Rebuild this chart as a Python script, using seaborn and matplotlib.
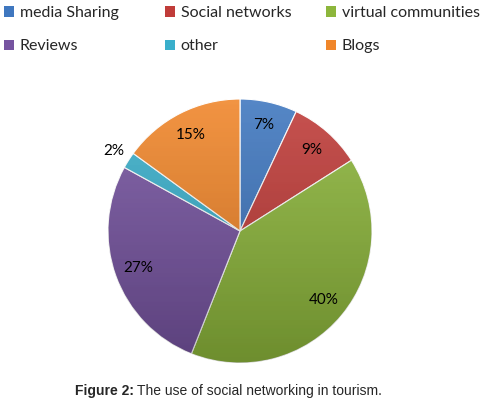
import numpy as np
import matplotlib
matplotlib.use("Agg")
import matplotlib.pyplot as plt
from matplotlib.patches import Patch, Circle
import seaborn as sns

# Share of each social networking use in tourism (percent)
categories = ["media Sharing", "Social networks", "virtual communities",
              "Reviews", "other", "Blogs"]
shares = [7, 9, 40, 27, 2, 15]
colors = ["#3F77BF", "#C03C39", "#8DB63C", "#7654A0", "#3AAFCB", "#F0862A"]

sns.set_theme(style="white")
plt.rcParams["font.family"] = ["Lato", "DejaVu Sans"]

W, H = 489, 409
fig = plt.figure(figsize=(W / 100, H / 100), dpi=100)

# pie axes: centre (240, 231) px, radius 132 px
cx, cy, r = 240, 231, 132
ax = fig.add_axes([(cx - r) / W, 1 - (cy + r) / H, 2 * r / W, 2 * r / H])

wedges, _ = ax.pie(shares, colors=colors, startangle=90, counterclock=False,
                   radius=1.0, center=(0, 0),
                   wedgeprops=dict(edgecolor="white", linewidth=0.8))

# soft light-to-dark shading across the pie
grad = np.linspace(1, 0, 256)[:, None] * np.ones((1, 2))
shade = np.zeros((256, 2, 4))
shade[..., 3] = (1 - grad) * 0.22
img = ax.imshow(shade, extent=(-1, 1, -1, 1), origin="upper", zorder=3,
                interpolation="bilinear")
img.set_clip_path(Circle((0, 0), 1.0, transform=ax.transData))
hl = np.zeros((256, 2, 4))
hl[..., :3] = 1.0
hl[..., 3] = grad * 0.12
img2 = ax.imshow(hl, extent=(-1, 1, -1, 1), origin="upper", zorder=3,
                 interpolation="bilinear")
img2.set_clip_path(Circle((0, 0), 1.0, transform=ax.transData))
ax.set_xlim(-1, 1)
ax.set_ylim(-1, 1)
ax.set_aspect("equal")
ax.axis("off")

# percentage labels
for w, v in zip(wedges, shares):
    mid = np.deg2rad((w.theta1 + w.theta2) / 2)
    d = 1.13 if v < 5 else 0.82
    ax.text(d * np.cos(mid), d * np.sin(mid), f"{v}%", ha="center",
            va="center", fontsize=11, color="black", zorder=5)

# legend: three equally spaced columns, two rows
handles = [Patch(facecolor=c, edgecolor="none") for c in colors]
col_x = [5, 166, 327]
for j, x0 in enumerate(col_x):
    idx = [j, j + 3]
    fig.legend([handles[i] for i in idx], [categories[i] for i in idx],
               loc="upper left", bbox_to_anchor=((x0 - 15) / W, 1.02),
               frameon=False, fontsize=11.5, handlelength=0.6,
               handleheight=0.6, handletextpad=0.35, labelspacing=1.2)

# caption
y_cap = 1 - 391 / H
t1 = fig.text(75 / W, y_cap, "Figure 2:", fontsize=10, fontweight="bold",
              family="Liberation Sans", va="center", ha="left")
fig.canvas.draw()
bb = t1.get_window_extent(renderer=fig.canvas.get_renderer())
fig.text((bb.x1 + 3) / W, y_cap, "The use of social networking in tourism.",
         fontsize=10, family="Liberation Sans", va="center", ha="left")

fig.savefig("out.png", dpi=100)
